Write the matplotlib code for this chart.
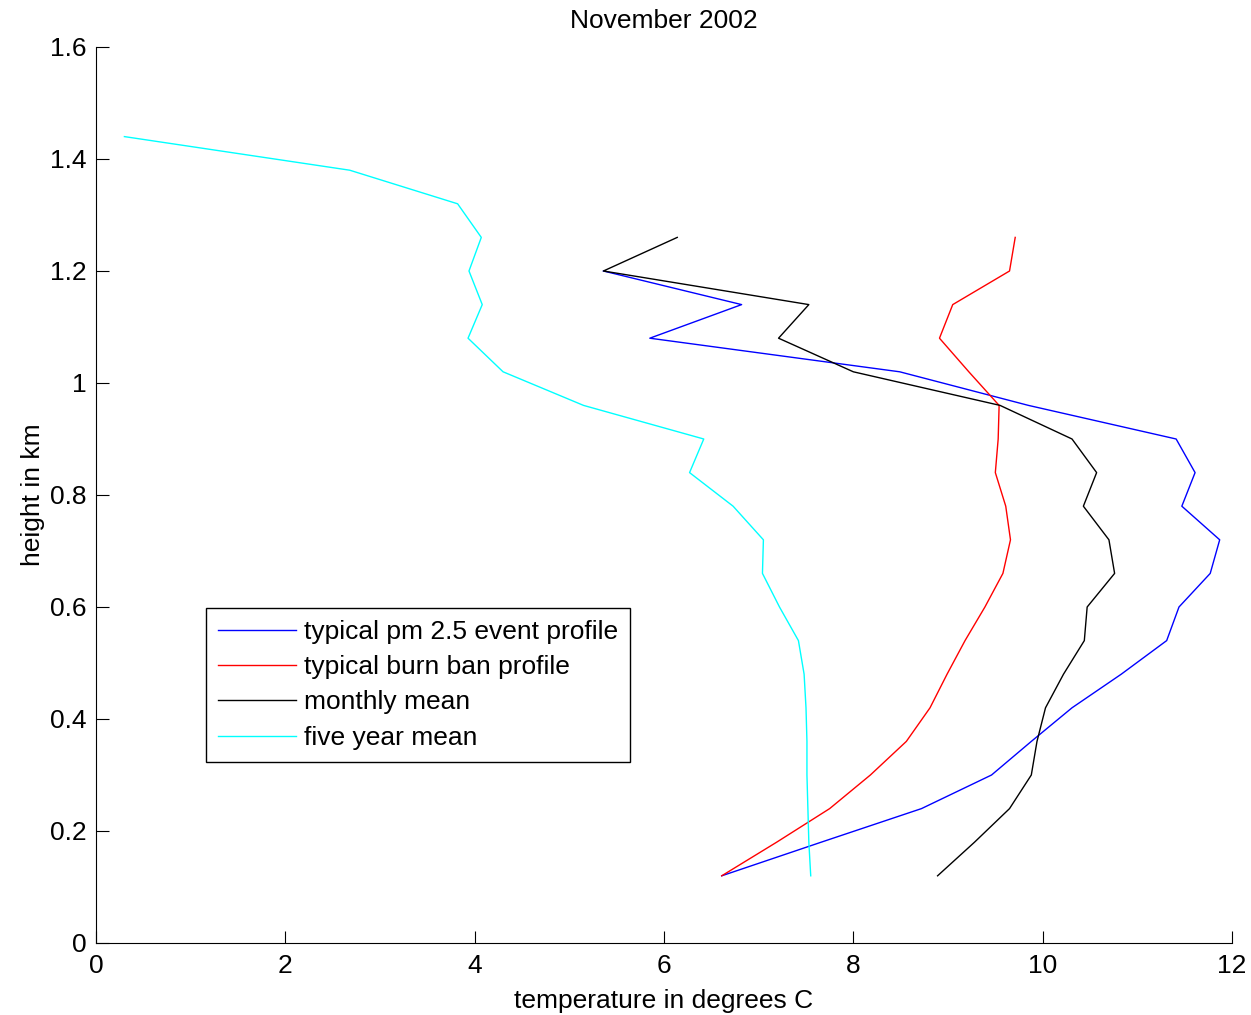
import matplotlib
matplotlib.use("Agg")
import matplotlib.pyplot as plt

plt.rcParams["font.family"] = ["Liberation Sans", "DejaVu Sans"]

# heights (km) of profile levels, from top down
height_pm = [1.20, 1.14, 1.08, 1.02, 0.96, 0.90, 0.84, 0.78, 0.72, 0.66,
             0.60, 0.54, 0.48, 0.42, 0.36, 0.30, 0.24, 0.18, 0.12]
height_profile = [1.26] + height_pm
height_five_year = [1.44, 1.38, 1.32] + height_profile

temp_pm = [5.36, 6.82, 5.85, 8.49, 9.85, 11.41, 11.61, 11.47, 11.87, 11.77,
           11.44, 11.31, 10.83, 10.31, 9.88, 9.46, 8.72, 7.66, 6.61]
temp_burn_ban = [9.71, 9.65, 9.05, 8.91, 9.22, 9.54, 9.53, 9.50, 9.61, 9.66,
                 9.58, 9.39, 9.18, 8.99, 8.81, 8.56, 8.18, 7.75, 7.19, 6.61]
temp_monthly = [6.14, 5.36, 7.53, 7.21, 8.00, 9.55, 10.31, 10.57, 10.43, 10.70,
                10.76, 10.47, 10.44, 10.22, 10.03, 9.94, 9.88, 9.65, 9.28, 8.89]
temp_five_year = [0.30, 2.68, 3.82, 4.07, 3.94, 4.08, 3.93, 4.30, 5.15, 6.42,
                  6.27, 6.73, 7.05, 7.04, 7.22, 7.42, 7.48, 7.50, 7.51, 7.51,
                  7.52, 7.53, 7.55]

labels = ["typical pm 2.5 event profile", "typical burn ban profile",
          "monthly mean", "five year mean"]

FS = 19

fig = plt.figure(figsize=(12.51, 10.15), dpi=100)
ax = fig.add_axes([96 / 1251, 72 / 1015, 1136 / 1251, 896 / 1015])

ax.plot(temp_pm, height_pm, color="#0000ff", lw=1, label=labels[0])
ax.plot(temp_burn_ban, height_profile, color="#ff0000", lw=1, label=labels[1])
ax.plot(temp_monthly, height_profile, color="#000000", lw=1, label=labels[2])
ax.plot(temp_five_year, height_five_year, color="#00ffff", lw=1, label=labels[3])

ax.set_xlim(0, 12)
ax.set_ylim(0, 1.6)
ax.set_xticks(range(0, 13, 2))
ax.set_yticks([0, 0.2, 0.4, 0.6, 0.8, 1, 1.2, 1.4, 1.6])
ax.set_yticklabels(["0", "0.2", "0.4", "0.6", "0.8", "1", "1.2", "1.4", "1.6"])
ax.spines["top"].set_visible(False)
ax.spines["right"].set_visible(False)
ax.tick_params(direction="in", length=9, labelsize=FS)
ax.tick_params(axis="x", pad=8)
ax.tick_params(axis="y", pad=7)

ax.set_title("November 2002", fontsize=FS, pad=14)
ax.set_xlabel("temperature in degrees C", fontsize=FS, labelpad=8)
ax.set_ylabel("height in km", fontsize=FS, labelpad=3)

leg = ax.legend(loc="upper left", bbox_to_anchor=(0.0968, 0.374),
                borderaxespad=0, fontsize=FS, handlelength=2.95,
                handletextpad=0.3, labelspacing=0.43, fancybox=False,
                edgecolor="black", framealpha=1, borderpad=0.45)
leg.get_frame().set_linewidth(1)

fig.savefig("out.png", dpi=100)
